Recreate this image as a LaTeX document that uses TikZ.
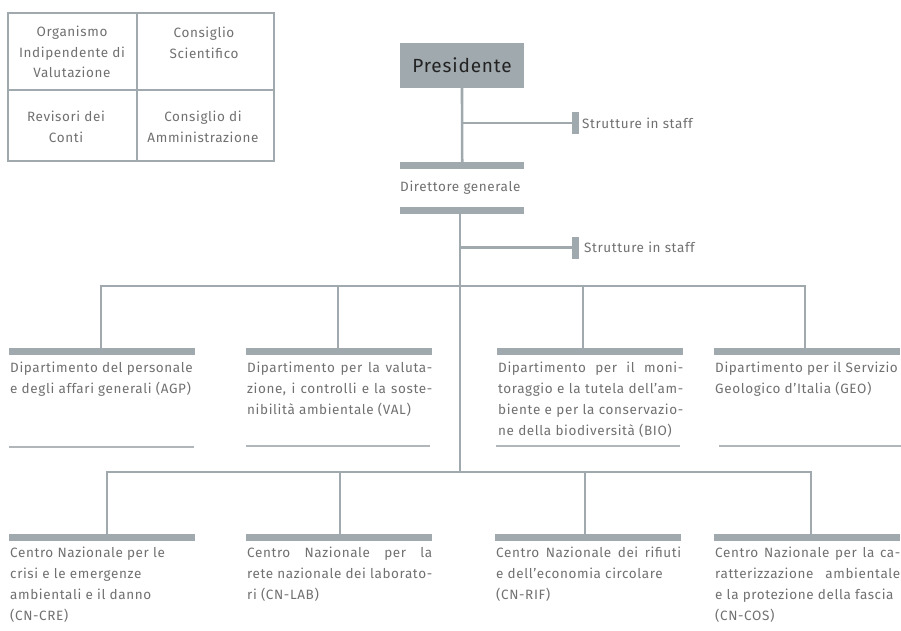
\documentclass[tikz,border=0pt]{standalone}
\usepackage{fontspec}
\setmainfont{Fira Sans}[LetterSpace=4.5]
\usetikzlibrary{positioning, calc}
\definecolor{orggray}{RGB}{160,169,173}
\definecolor{orgrule}{RGB}{176,182,185}
\definecolor{orgtext}{RGB}{112,112,112}
\definecolor{orgdark}{RGB}{34,34,34}
\tikzset{
  bar/.style={rectangle, fill=orggray, inner sep=0pt, minimum width=186pt, minimum height=7pt},
  staffbar/.style={rectangle, fill=orggray, inner sep=0pt, minimum width=6.5pt, minimum height=22pt},
  conn/.style={draw=orggray, line width=2.6pt},
  grid/.style={draw=orggray, line width=2pt},
  thinrule/.style={draw=orgrule, line width=1.2pt},
  cell/.style={align=center, inner sep=0pt, font=\fontsize{13.5}{20.5}\selectfont},
  desc/.style={inner sep=0pt, text width=185pt, align=justify, font=\fontsize{13.5}{21}\selectfont},
  pres/.style={rectangle, fill=orggray, minimum width=124pt, minimum height=45pt,
    text=orgdark, font=\fontsize{19}{22}\selectfont}
}

\begin{document}
\begin{tikzpicture}[x=1pt, y=-1pt, every node/.style={text=orgtext, font=\fontsize{13.5}{21}\selectfont}]
  \useasboundingbox (0,0) rectangle (901,630);

  % Organi collegiali
  \draw[grid] (8,13) rectangle (274,161);
  \draw[grid, line width=1.5pt] (137,13) -- (137,161);
  \draw[grid, line width=1.5pt] (8,90) -- (274,90);
  \node[cell] (oiv) at (72,52) {Organismo\\Indipendente di\\Valutazione};
  \node[cell] (cs) at (204,43) {Consiglio\\Scientifico};
  \node[cell] (rc) at (66,127) {Revisori dei\\Conti};
  \node[cell] (cda) at (203,127) {Consiglio di\\Amministrazione};

  % Presidente
  \node[pres] (pres) at (462,65.5) {Presidente};
  \node[staffbar] (staff1) at (575.5,123) {};
  \node[right=3pt of staff1, inner sep=0pt] (staff1-lbl) {Strutture in staff};
  \draw[conn] (pres.south |- staff1) -- (staff1.west);

  % Direttore generale
  \node[bar, minimum width=124pt, anchor=north west] (dg-top) at (400,162) {};
  \node[anchor=west, inner sep=0pt] (dg) at (400,188) {Direttore generale};
  \node[bar, minimum width=124pt, anchor=north west] (dg-bot) at (400,207) {};
  \draw[conn] (pres.south) -- (dg-top.north);

  \coordinate (dg-out) at (460,210.5);
  \coordinate (hub1) at (460,286);
  \coordinate (hub2) at (460,472);
  \node[staffbar] (staff2) at (575.5,247.5) {};
  \node[right=5pt of staff2, inner sep=0pt] (staff2-lbl) {Strutture in staff};
  \draw[conn] (dg-out) -- (hub2);
  \draw[conn] (dg-out |- staff2) -- (staff2.west);

  % Dipartimenti
  \foreach \n/\bx/\vx/\txt in {
    agp/9/101/{Dipartimento del personale\\e degli affari generali (AGP)},
    val/246/338/{Dipartimento per la valuta-\linebreak zione, i controlli e la soste-\linebreak nibilità ambientale (VAL)},
    bio/497/583/{Dipartimento per il moni-\linebreak toraggio e la tutela dell’am-\linebreak biente e per la conservazio-\linebreak ne della biodiversità (BIO)},
    geo/714/805/{Dipartimento per il Servizio\\Geologico d’Italia (GEO)}}
  {
    \node[bar, anchor=north west] (\n) at (\bx,348) {};
    \node[desc, below right=6pt and 1pt of \n.south west] (\n-txt) {\txt};
    \coordinate (\n-top) at (\vx,286);
    \draw[conn] (\n-top) -- (\n-top |- \n.north);
  }
  \draw[conn] ([xshift=-1.3pt]agp-top) -- ([xshift=1.3pt]geo-top);
  \draw[thinrule] (9,447) -- (194,447);
  \draw[thinrule] (246,446) -- (430,446);
  \draw[thinrule] (496,446) -- (680,446);
  \draw[thinrule] (719,446) -- (901,446);

  % Centri nazionali
  \foreach \n/\bx/\vx/\txt in {
    cre/9/107/{Centro Nazionale per le\\crisi e le emergenze\\ambientali e il danno\\(CN-CRE)},
    lab/246/340/{Centro Nazionale per la\linebreak rete nazionale dei laborato-\linebreak ri (CN-LAB)},
    rif/495/585/{Centro Nazionale dei rifiuti\linebreak e dell’economia circolare\\(CN-RIF)},
    cos/714/811/{Centro Nazionale per la ca-\linebreak ratterizzazione ambientale\linebreak e la protezione della fascia\\(CN-COS)}}
  {
    \node[bar, anchor=north west] (\n) at (\bx,534) {};
    \node[desc, below right=5pt and 1pt of \n.south west] (\n-txt) {\txt};
    \coordinate (\n-top) at (\vx,472);
    \draw[conn] (\n-top) -- (\n-top |- \n.north);
  }
  \draw[conn] ([xshift=-1.3pt]cre-top) -- ([xshift=1.3pt]cos-top);
\end{tikzpicture}
\end{document}
